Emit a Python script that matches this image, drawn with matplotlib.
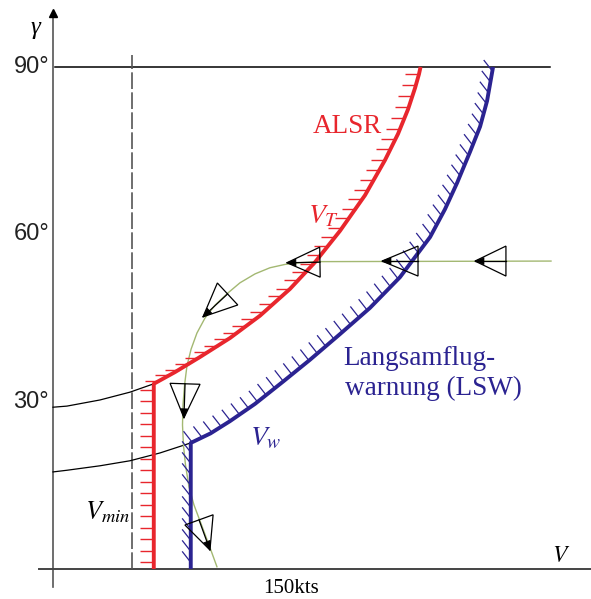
import numpy as np
import matplotlib
matplotlib.use('Agg')
import matplotlib.pyplot as plt
from matplotlib.collections import LineCollection
from matplotlib.patches import Polygon

# speed V in kts, flight path angle gamma in degrees
red_v = [63.5, 63.5, 76.9, 92.6, 111.5, 130.4, 149.3, 165.1, 180.8, 196.6,
         209.2, 217.4, 223.7, 228.1, 230.6, 231.6]
red_g = [0.0, 33.2, 35.3, 38.0, 41.4, 45.4, 50.2, 55.0, 60.6, 67.0,
         73.3, 78.0, 82.4, 86.2, 88.7, 90.0]

blue_v = [86.8, 86.8, 99.2, 111.5, 127.3, 145.0, 161.9, 180.8, 199.7, 218.6,
          237.6, 247.0, 254.6, 262.8, 269.1, 273.5, 277.3]
blue_g = [0.0, 22.6, 24.3, 26.5, 29.6, 33.6, 37.5, 42.1, 46.8, 52.3,
          59.5, 64.5, 69.2, 74.8, 79.3, 83.9, 90.0]

traj_v = [313.8, 168.2, 155.6, 146.2, 136.7, 127.3, 117.8, 110.3, 102.1, 95.8,
          90.7, 87.0, 84.4, 82.9, 81.9, 81.6, 82.2, 83.5, 85.7, 88.8,
          93.3, 98.3, 103.3]
traj_g = [55.2, 55.1, 54.9, 54.6, 54.0, 52.9, 51.3, 49.5, 47.3, 45.0,
          42.3, 39.4, 36.4, 33.0, 29.4, 25.8, 22.2, 18.6, 14.7, 11.5,
          8.1, 4.3, 0.4]

# thin black lines from the gamma axis to the corners
upper_v = [0.0, 8.8, 29.6, 48.5, 63.5]
upper_g = [29.0, 29.2, 30.3, 31.7, 33.2]
lower_v = [0.0, 8.8, 29.6, 48.5, 67.4, 86.8]
lower_g = [17.4, 17.7, 18.5, 19.4, 20.8, 22.6]

# flow arrows: tail (base middle) -> head (tip)
arrow_tail_v = [285.4, 230.0, 168.2, 110.0, 83.2, 92.0]
arrow_tail_g = [55.2, 55.2, 55.0, 49.3, 33.2, 8.8]
arrow_head_v = [265.9, 207.3, 147.4, 94.5, 82.5, 98.9]
arrow_head_g = [55.2, 55.2, 54.9, 45.2, 27.1, 3.4]

V_MIN = 50.0
GAMMA_TICKS = [30, 60, 90]

RED = '#e8262d'
NAVY = '#2b2391'
GREEN = '#a3b872'
SERIF = 'Liberation Serif'
SANS = 'Liberation Sans'

plt.rcParams['mathtext.fontset'] = 'stix'


def hatch(ax, vs, gs, spacing, length, angle, color, lw):
    """Short ticks along a curve, placed every `spacing` px."""
    pts = ax.transData.transform(np.column_stack([vs, gs]))
    d = np.hypot(*np.diff(pts, axis=0).T)
    s = np.concatenate([[0], np.cumsum(d)])
    at = np.arange(spacing * 0.6, s[-1] - 2, spacing)
    px = np.interp(at, s, pts[:, 0])
    py = np.interp(at, s, pts[:, 1])
    a = np.radians(angle)
    inv = ax.transData.inverted()
    segs = []
    for x, y in zip(px, py):
        p0 = inv.transform((x, y))
        p1 = inv.transform((x + length * np.cos(a), y + length * np.sin(a)))
        segs.append([p0, p1])
    ax.add_collection(LineCollection(segs, colors=color, linewidths=lw, zorder=3))


def flow_arrow(ax, tail, head, width=30, hl=9, hw=7):
    T = ax.transData.transform(tail)
    H = ax.transData.transform(head)
    u = (H - T) / np.hypot(*(H - T))
    n = np.array([-u[1], u[0]])
    inv = ax.transData.inverted()
    tri = [T + n * width / 2, H, T - n * width / 2]
    ax.add_patch(Polygon(inv.transform(tri), closed=True, fill=False,
                         ec='black', lw=0.9, zorder=6))
    line = inv.transform([T, H])
    ax.plot(line[:, 0], line[:, 1], color='black', lw=0.9, zorder=6)
    tip = [H, H - u * hl + n * hw / 2, H - u * hl - n * hw / 2]
    ax.add_patch(Polygon(inv.transform(tip), closed=True, fc='black',
                         ec='black', lw=0.5, zorder=7))


fig = plt.figure(figsize=(5.91, 5.99), dpi=100)
ax = fig.add_axes([0, 0, 1, 1])
ax.set_xlim(-33.4, 339.0)
ax.set_ylim(-5.38, 102.0)
ax.axis('off')

# axes of the sketch
ax.plot([0, 0], [-3.2, 99.0], color='#555555', lw=1.2, zorder=2)
ax.plot([0], [99.6], marker='^', color='black', ms=6, zorder=2)
ax.plot([-8.8, 339], [0, 0], color='#444444', lw=1.4, zorder=2)
ax.plot([1, 313], [90, 90], color='black', lw=1.1, zorder=2)
ax.plot([V_MIN, V_MIN], [0, 92.1], color='#555555', lw=1.2,
        linestyle=(0, (10, 2)), zorder=2)

for g in GAMMA_TICKS:
    ax.text(-2.5, g, f'{g}°', fontsize=17, family=SANS, ha='right',
            va='center', color='#222222')
ax.text(-11.3, 96.9, 'γ', fontsize=18, family=SERIF, style='italic',
        ha='center', va='center')
ax.text(314.4, 1.2, '$V$', fontsize=17, ha='left', va='baseline')
ax.text(150, -4.3, '150kts', fontsize=15, family=SERIF, ha='center',
        va='baseline')

# thin connection lines and trajectory
ax.plot(upper_v, upper_g, color='black', lw=0.9, zorder=2)
ax.plot(lower_v, lower_g, color='black', lw=0.9, zorder=2)
ax.plot(traj_v, traj_g, color=GREEN, lw=1.0, zorder=3)

# ALSR boundary (red) and slow speed warning (blue)
hatch(ax, red_v, red_g, 11.5, 14, 180, RED, 1.0)
ax.plot(red_v, red_g, color=RED, lw=2.8, zorder=4, solid_capstyle='butt')
hatch(ax, blue_v, blue_g, 11, 14, 128, NAVY, 0.9)
ax.plot(blue_v, blue_g, color=NAVY, lw=2.8, zorder=4, solid_capstyle='butt')

for tv, tg, hv, hg in zip(arrow_tail_v, arrow_tail_g, arrow_head_v, arrow_head_g):
    flow_arrow(ax, (tv, tg), (hv, hg))

ax.text(163.8, 78.2, 'ALSR', fontsize=19.5, family=SERIF, color=RED,
        ha='left', va='baseline')
ax.text(160.7, 62.0, '$V_T$', fontsize=20, color=RED, ha='left', va='baseline')
ax.text(182.7, 36.6, 'Langsamflug-', fontsize=19.5, family=SERIF, color=NAVY,
        ha='left', va='baseline')
ax.text(184.0, 31.2, 'warnung (LSW)', fontsize=19.5, family=SERIF, color=NAVY,
        ha='left', va='baseline')
ax.text(124.1, 22.2, '$V_w$', fontsize=20, color=NAVY, ha='left', va='baseline')
ax.text(20.2, 8.8, '$V_{min}$', fontsize=19, color='black', ha='left',
        va='baseline')

fig.savefig('out.png', dpi=100)
